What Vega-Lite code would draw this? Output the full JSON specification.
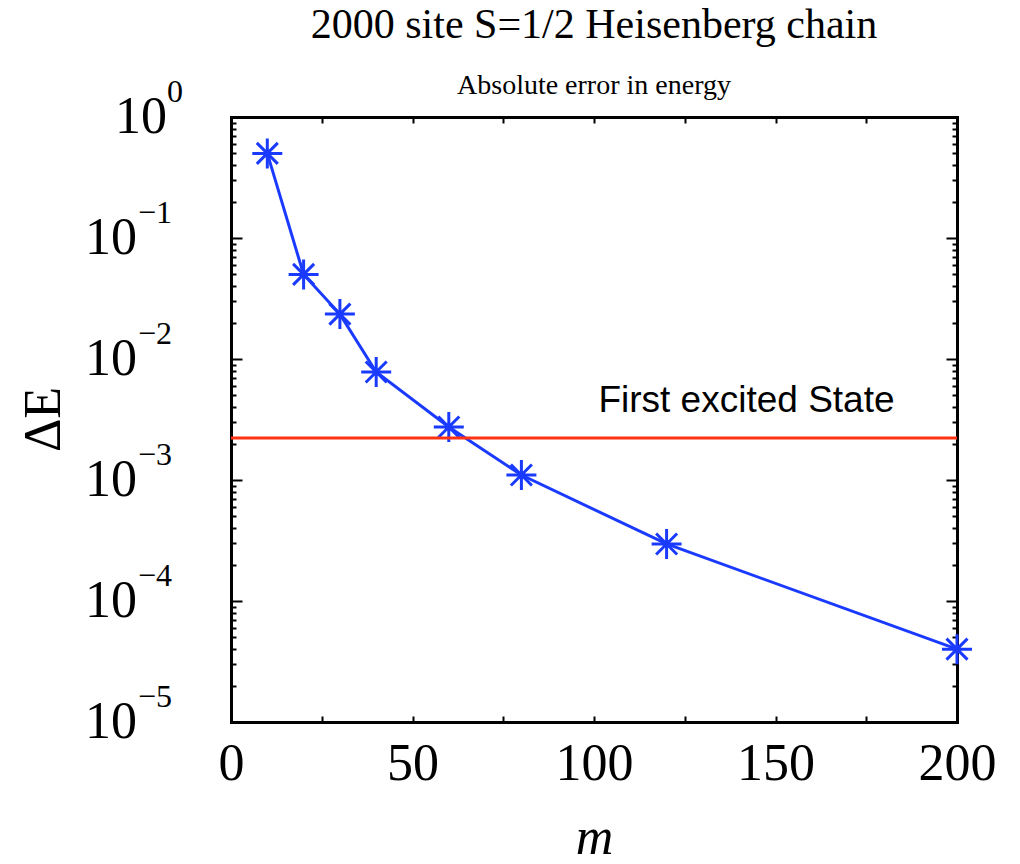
{
  "$schema": "https://vega.github.io/schema/vega-lite/v6.json",
  "width": 726,
  "height": 605,
  "autosize": {"type": "none"},
  "padding": {"left": 231, "top": 117, "right": 63, "bottom": 142},
  "background": "white",
  "title": {
    "text": "2000 site S=1/2 Heisenberg chain",
    "subtitle": "Absolute error in energy",
    "font": "Liberation Serif",
    "fontSize": 42,
    "fontWeight": "normal",
    "subtitleFont": "Liberation Serif",
    "subtitleFontSize": 28,
    "color": "black",
    "subtitleColor": "black",
    "anchor": "middle",
    "offset": -25,
    "subtitlePadding": 25
  },
  "datasets": {
    "pts": [
      {"m": 10, "dE": 0.50},
      {"m": 20, "dE": 0.050},
      {"m": 30, "dE": 0.0235},
      {"m": 40, "dE": 0.0078},
      {"m": 60, "dE": 0.00274},
      {"m": 80, "dE": 0.00110},
      {"m": 120, "dE": 0.000296},
      {"m": 200, "dE": 0.000040}
    ],
    "lab0": [{"v": 1, "t": "0"}],
    "labn": [
      {"v": 0.1, "t": "−1"},
      {"v": 0.01, "t": "−2"},
      {"v": 0.001, "t": "−3"},
      {"v": 0.0001, "t": "−4"},
      {"v": 0.00001, "t": "−5"}
    ],
    "one": [{}]
  },
  "layer": [
    {
      "data": {"name": "pts"},
      "mark": {"type": "line", "color": "#1a3bff", "strokeWidth": 3},
      "encoding": {
        "x": {
          "field": "m", "type": "quantitative",
          "scale": {"domain": [0, 200], "nice": false},
          "axis": {
            "orient": "bottom",
            "title": "m",
            "titleFont": "Liberation Serif",
            "titleFontSize": 52,
            "titleFontStyle": "italic",
            "titleFontWeight": "normal",
            "titlePadding": 23,
            "values": [0, 25, 50, 75, 100, 125, 150, 175, 200],
            "labelExpr": "datum.value % 50 === 0 ? datum.label : ''",
            "labelFont": "Liberation Serif",
            "labelFontSize": 52,
            "labelPadding": 22,
            "labelFlush": false,
            "labelOverlap": false,
            "tickSize": -6
          }
        },
        "y": {
          "field": "dE", "type": "quantitative",
          "scale": {"type": "log", "domain": [0.00001, 1], "nice": false},
          "axis": {
            "orient": "left",
            "title": "ΔE",
            "titleFont": "Liberation Serif",
            "titleFontSize": 52,
            "titleFontWeight": "normal",
            "titleX": -188,
            "titleY": 302,
            "titleAngle": -90,
            "titleAlign": "center",
            "titleBaseline": "middle",
            "labels": false,
            "values": [0.00001, 0.00002, 0.00003, 0.00004, 0.00005, 0.00006, 0.00007, 0.00008, 0.00009,
                       0.0001, 0.0002, 0.0003, 0.0004, 0.0005, 0.0006, 0.0007, 0.0008, 0.0009,
                       0.001, 0.002, 0.003, 0.004, 0.005, 0.006, 0.007, 0.008, 0.009,
                       0.01, 0.02, 0.03, 0.04, 0.05, 0.06, 0.07, 0.08, 0.09,
                       0.1, 0.2, 0.3, 0.4, 0.5, 0.6, 0.7, 0.8, 0.9, 1],
            "tickSize": {"condition": {"test": "abs(log(datum.value)/LN10 - round(log(datum.value)/LN10)) < 0.001", "value": -11}, "value": -5}
          }
        }
      }
    },
    {
      "data": {"name": "pts"},
      "mark": {
        "type": "point",
        "shape": "M0,-1L0,1M-1,0L1,0M-0.7,-0.7L0.7,0.7M-0.7,0.7L0.7,-0.7",
        "filled": false,
        "stroke": "#1a3bff",
        "strokeWidth": 3,
        "size": 900,
        "opacity": 1
      },
      "encoding": {
        "x": {
          "field": "m", "type": "quantitative",
          "axis": {
            "orient": "top",
            "title": null,
            "labels": false,
            "values": [0, 25, 50, 75, 100, 125, 150, 175, 200],
            "tickSize": -6
          }
        },
        "y": {
          "field": "dE", "type": "quantitative",
          "axis": {
            "orient": "right",
            "title": null,
            "labels": false,
            "values": [0.00001, 0.00002, 0.00003, 0.00004, 0.00005, 0.00006, 0.00007, 0.00008, 0.00009,
                       0.0001, 0.0002, 0.0003, 0.0004, 0.0005, 0.0006, 0.0007, 0.0008, 0.0009,
                       0.001, 0.002, 0.003, 0.004, 0.005, 0.006, 0.007, 0.008, 0.009,
                       0.01, 0.02, 0.03, 0.04, 0.05, 0.06, 0.07, 0.08, 0.09,
                       0.1, 0.2, 0.3, 0.4, 0.5, 0.6, 0.7, 0.8, 0.9, 1],
            "tickSize": {"condition": {"test": "abs(log(datum.value)/LN10 - round(log(datum.value)/LN10)) < 0.001", "value": -11}, "value": -5}
          }
        }
      }
    },
    {
      "data": {"name": "one"},
      "mark": {"type": "rule", "color": "#ff3311", "strokeWidth": 3},
      "encoding": {
        "y": {"datum": 0.00222, "type": "quantitative", "axis": null}
      }
    },
    {
      "data": {"name": "one"},
      "mark": {"type": "text", "font": "Liberation Sans", "fontSize": 37, "align": "center", "baseline": "alphabetic", "color": "black"},
      "encoding": {
        "x": {"datum": 142, "type": "quantitative", "axis": null},
        "y": {"datum": 0.00365, "type": "quantitative", "axis": null},
        "text": {"value": "First excited State"}
      }
    },
    {
      "data": {"name": "lab0"},
      "mark": {"type": "text", "font": "Liberation Serif", "fontSize": 52, "align": "right", "baseline": "middle", "dx": -64, "color": "black"},
      "encoding": {
        "x": {"datum": 0, "type": "quantitative", "axis": null},
        "y": {"field": "v", "type": "quantitative", "axis": null},
        "text": {"value": "10"}
      }
    },
    {
      "data": {"name": "lab0"},
      "mark": {"type": "text", "font": "Liberation Serif", "fontSize": 32, "align": "left", "baseline": "middle", "dx": -64, "dy": -25, "color": "black"},
      "encoding": {
        "x": {"datum": 0, "type": "quantitative", "axis": null},
        "y": {"field": "v", "type": "quantitative", "axis": null},
        "text": {"field": "t"}
      }
    },
    {
      "data": {"name": "labn"},
      "mark": {"type": "text", "font": "Liberation Serif", "fontSize": 52, "align": "right", "baseline": "middle", "dx": -94, "color": "black"},
      "encoding": {
        "x": {"datum": 0, "type": "quantitative", "axis": null},
        "y": {"field": "v", "type": "quantitative", "axis": null},
        "text": {"value": "10"}
      }
    },
    {
      "data": {"name": "labn"},
      "mark": {"type": "text", "font": "Liberation Serif", "fontSize": 32, "align": "left", "baseline": "middle", "dx": -93, "dy": -25, "color": "black"},
      "encoding": {
        "x": {"datum": 0, "type": "quantitative", "axis": null},
        "y": {"field": "v", "type": "quantitative", "axis": null},
        "text": {"field": "t"}
      }
    }
  ],
  "resolve": {"axis": {"x": "independent", "y": "independent"}},
  "config": {
    "view": {"stroke": null},
    "axis": {
      "grid": false,
      "domainColor": "black",
      "domainWidth": 3,
      "domainCap": "square",
      "tickColor": "black",
      "tickWidth": 2,
      "labelColor": "black",
      "titleColor": "black"
    }
  }
}
